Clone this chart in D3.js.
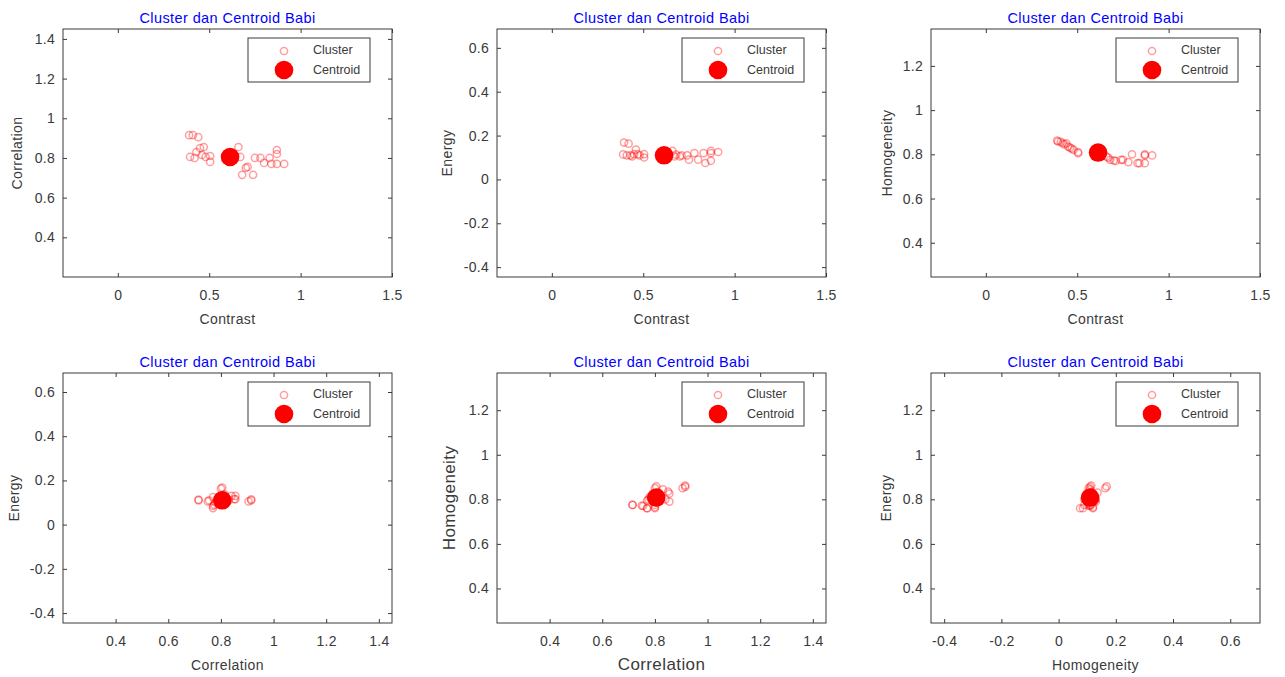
<!DOCTYPE html>
<html>
<head>
<meta charset="utf-8">
<script src="https://cdn.jsdelivr.net/npm/d3@7"></script>
<style>
  body { margin: 0; background: #fff; }
  svg { display: block; }
  text { font-family: Arial, "Liberation Sans", sans-serif; }
</style>
</head>
<body>
<svg id="fig" width="1285" height="677"></svg>
<script>
// GLCM texture features for each sample in the "Babi" cluster
const contrast    = [0.39, 0.41, 0.44, 0.395, 0.42, 0.46, 0.45, 0.47, 0.48, 0.505, 0.43, 0.505,
                     0.63, 0.66, 0.67, 0.68, 0.74, 0.71, 0.70, 0.75,
                     0.78, 0.80, 0.83, 0.87, 0.87, 0.84, 0.87, 0.91];
const correlation = [0.915, 0.915, 0.905, 0.805, 0.80, 0.815, 0.85, 0.855, 0.805, 0.78, 0.83, 0.81,
                     0.80, 0.855, 0.805, 0.715, 0.715, 0.755, 0.75, 0.80,
                     0.80, 0.775, 0.80, 0.84, 0.82, 0.77, 0.77, 0.77];
const energy      = [0.114, 0.110, 0.105, 0.168, 0.163, 0.136, 0.115, 0.115, 0.110, 0.100, 0.110, 0.115,
                     0.110, 0.130, 0.105, 0.113, 0.110, 0.110, 0.105, 0.090,
                     0.120, 0.090, 0.120, 0.130, 0.120, 0.075, 0.085, 0.125];
const homogeneity = [0.862, 0.856, 0.850, 0.858, 0.850, 0.830, 0.835, 0.826, 0.820, 0.810, 0.845, 0.805,
                     0.800, 0.790, 0.785, 0.775, 0.775, 0.770, 0.772, 0.775,
                     0.765, 0.800, 0.760, 0.800, 0.795, 0.760, 0.760, 0.795];

// cluster centroid [contrast, correlation, energy, homogeneity]
const centroidValues = [0.614, 0.805, 0.110, 0.808];

// tick labels per feature
const contrastTicks    = [0, 0.5, 1, 1.5];
const correlationTicks = [0.4, 0.6, 0.8, 1, 1.2, 1.4];
const energyTicks      = [-0.4, -0.2, 0, 0.2, 0.4, 0.6];
const homogeneityTicks = [0.4, 0.6, 0.8, 1, 1.2];

const features = {
  contrast:    { values: contrast,    centroid: centroidValues[0], domain: [-0.3, 1.5],     ticks: contrastTicks },
  correlation: { values: correlation, centroid: centroidValues[1], domain: [0.2, 1.45],     ticks: correlationTicks },
  energy:      { values: energy,      centroid: centroidValues[2], domain: [-0.445, 0.686], ticks: energyTicks },
  homogeneity: { values: homogeneity, centroid: centroidValues[3], domain: [0.245, 1.367],  ticks: homogeneityTicks }
};

const panels = [
  { x: "contrast",    y: "correlation", xLabel: "Contrast",    yLabel: "Correlation", col: 0, row: 0 },
  { x: "contrast",    y: "energy",      xLabel: "Contrast",    yLabel: "Energy",      col: 1, row: 0 },
  { x: "contrast",    y: "homogeneity", xLabel: "Contrast",    yLabel: "Homogeneity", col: 2, row: 0 },
  { x: "correlation", y: "energy",      xLabel: "Correlation", yLabel: "Energy",      col: 0, row: 1 },
  { x: "correlation", y: "homogeneity", xLabel: "Correlation", yLabel: "Homogeneity", col: 1, row: 1, bigLabels: true },
  { x: "energy",      y: "homogeneity", xLabel: "Homogeneity", yLabel: "Energy",      col: 2, row: 1, xDomain: [-0.446, 0.704] }
];

// page layout
const colLeft = [63, 497, 931];
const rowTop = [29, 373];
const plotW = 329;
const rowH = [248, 250];
const yLabelOffset = [[45, 49, 43], [48, 46, 44]];

const ink = "#3a3a3a";
const clusterStroke = "rgba(255,0,0,0.38)";
const fmt = v => String(v);

const svg = d3.select("#fig");

panels.forEach(p => {
  const left = colLeft[p.col], top = rowTop[p.row], h = rowH[p.row];
  const fx = features[p.x], fy = features[p.y];
  const xs = d3.scaleLinear().domain(p.xDomain || fx.domain).range([0, plotW]);
  const ys = d3.scaleLinear().domain(fy.domain).range([h, 0]);

  const g = svg.append("g").attr("transform", `translate(${left},${top})`);

  // title
  g.append("text")
    .attr("x", plotW / 2).attr("y", -10)
    .attr("text-anchor", "middle")
    .attr("dominant-baseline", "middle")
    .attr("font-size", 14.5).attr("letter-spacing", 0.4).attr("fill", "#0000ff")
    .text("Cluster dan Centroid Babi");

  // axes: inward ticks on all four sides
  const tick = 4;
  const bottom = d3.axisBottom(xs).tickValues(fx.ticks).tickFormat(fmt).tickSizeInner(-tick).tickSizeOuter(0).tickPadding(13);
  const leftAx = d3.axisLeft(ys).tickValues(fy.ticks).tickFormat(fmt).tickSizeInner(-tick).tickSizeOuter(0).tickPadding(8);
  const topAx = d3.axisTop(xs).tickValues(fx.ticks).tickFormat("").tickSizeInner(-tick).tickSizeOuter(0);
  const rightAx = d3.axisRight(ys).tickValues(fy.ticks).tickFormat("").tickSizeInner(-tick).tickSizeOuter(0);

  const styleAxis = sel => {
    sel.select(".domain").remove();
    sel.selectAll(".tick line").attr("stroke", ink);
    sel.selectAll(".tick text").attr("fill", ink).attr("font-size", 14).attr("letter-spacing", 0.3)
      .attr("font-family", "Arial, 'Liberation Sans', sans-serif");
  };
  g.append("g").attr("transform", `translate(0,${h})`).call(bottom).call(styleAxis);
  g.append("g").call(leftAx).call(styleAxis);
  g.append("g").call(topAx).call(styleAxis);
  g.append("g").attr("transform", `translate(${plotW},0)`).call(rightAx).call(styleAxis);

  g.append("rect")
    .attr("x", 0).attr("y", 0).attr("width", plotW).attr("height", h)
    .attr("fill", "none").attr("stroke", ink).attr("stroke-width", 1);

  // axis labels
  const lblSize = p.bigLabels ? 17 : 14;
  g.append("text")
    .attr("x", plotW / 2).attr("y", h + 43)
    .attr("text-anchor", "middle").attr("dominant-baseline", "middle")
    .attr("font-size", lblSize).attr("letter-spacing", 0.4).attr("fill", ink)
    .text(p.xLabel);
  g.append("text")
    .attr("transform", `translate(${-yLabelOffset[p.row][p.col]},${h / 2}) rotate(-90)`)
    .attr("text-anchor", "middle").attr("dominant-baseline", "middle")
    .attr("font-size", lblSize).attr("letter-spacing", 0.4).attr("fill", ink)
    .text(p.yLabel);

  // cluster members
  const pts = fx.values.map((v, i) => [v, fy.values[i]]);
  const plot = g.append("g");
  plot.selectAll("circle.member").data(pts).join("circle")
    .attr("class", "member")
    .attr("cx", d => xs(d[0])).attr("cy", d => ys(d[1]))
    .attr("r", 3.6)
    .attr("fill", "none").attr("stroke", clusterStroke).attr("stroke-width", 1.5);

  // centroid
  plot.append("circle")
    .attr("cx", xs(fx.centroid)).attr("cy", ys(fy.centroid))
    .attr("r", 9.3).attr("fill", "#ff0000");

  // legend
  const lg = g.append("g").attr("transform", `translate(${plotW - 22 - 122},9)`);
  lg.append("rect").attr("width", 122).attr("height", 44)
    .attr("fill", "#fff").attr("stroke", ink).attr("stroke-width", 1);
  lg.append("circle").attr("cx", 36).attr("cy", 13).attr("r", 3.6)
    .attr("fill", "none").attr("stroke", clusterStroke).attr("stroke-width", 1.5);
  lg.append("circle").attr("cx", 36).attr("cy", 32).attr("r", 9.3).attr("fill", "#ff0000");
  lg.append("text").attr("x", 65).attr("y", 13).attr("dominant-baseline", "middle")
    .attr("font-size", 12.5).attr("fill", ink).text("Cluster");
  lg.append("text").attr("x", 65).attr("y", 33).attr("dominant-baseline", "middle")
    .attr("font-size", 12.5).attr("fill", ink).text("Centroid");
});
</script>
</body>
</html>
